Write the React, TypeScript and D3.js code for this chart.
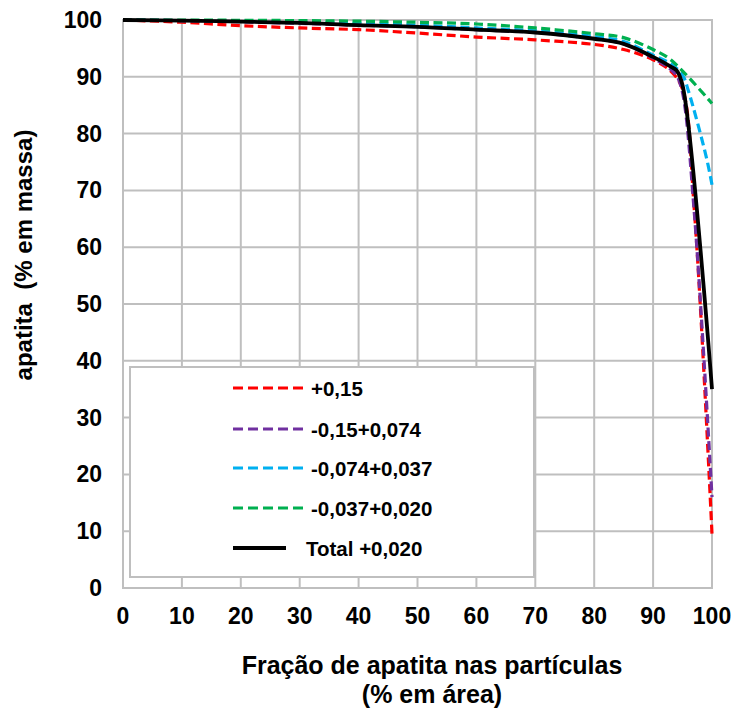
import React from "react";
import * as d3 from "d3";

// Axis ticks
const xTicks = [0, 10, 20, 30, 40, 50, 60, 70, 80, 90, 100];
const yTicks = [0, 10, 20, 30, 40, 50, 60, 70, 80, 90, 100];

// Size-class series: apatite fraction in particles (x) vs cumulative apatite mass (y)
const redX = [0, 10, 20, 30, 40, 50, 60, 70, 80, 85, 90, 93, 95, 97, 100];
const redY = [100, 99.6, 99.0, 98.6, 98.3, 97.7, 97.0, 96.5, 95.7, 94.8, 93.0, 91.0, 87.8, 66.5, 9.5];

const purpleX = [0, 10, 20, 30, 40, 50, 60, 70, 80, 85, 90, 93, 94, 95, 97, 100];
const purpleY = [100, 99.9, 99.7, 99.4, 99.1, 98.8, 98.3, 97.8, 96.7, 95.8, 93.3, 91.3, 90.2, 87.2, 66, 16];

const blueX = [0, 10, 20, 30, 40, 50, 60, 70, 80, 85, 90, 93, 95, 96, 99, 100];
const blueY = [100, 99.9, 99.8, 99.6, 99.4, 99.1, 98.6, 98.1, 97.1, 96.2, 93.8, 92.3, 90.3, 87.5, 76, 71];

const greenX = [0, 10, 20, 30, 40, 50, 60, 70, 80, 85, 90, 93, 100];
const greenY = [100, 100, 99.95, 99.9, 99.8, 99.6, 99.3, 98.6, 97.6, 96.9, 94.8, 93.0, 85.3];

const totalX = [0, 10, 20, 30, 40, 50, 60, 70, 80, 85, 90, 93, 94, 95, 100];
const totalY = [100, 99.9, 99.7, 99.5, 99.1, 98.8, 98.3, 97.8, 96.7, 95.8, 93.5, 91.8, 91.1, 88.5, 35];

const seriesLabels = ["+0,15", "-0,15+0,074", "-0,074+0,037", "-0,037+0,020", "Total +0,020"];
const seriesColors = ["#FF0000", "#7030A0", "#00B0F0", "#00B050", "#000000"];

const seriesList = [
  { xs: redX, ys: redY },
  { xs: purpleX, ys: purpleY },
  { xs: blueX, ys: blueY },
  { xs: greenX, ys: greenY },
  { xs: totalX, ys: totalY },
];

const W = 737;
const H = 713;
const FONT = "'Liberation Sans', Arial, sans-serif";
const GRID = "#BFBFBF";

export default function App() {
  const x = d3.scaleLinear().domain([0, 100]).range([123, 712]);
  const y = d3.scaleLinear().domain([0, 100]).range([588, 20]);

  const line = d3
    .line<[number, number]>()
    .x((d) => x(d[0]))
    .y((d) => y(d[1]))
    .curve(d3.curveCatmullRom.alpha(0.5));

  const legendRows = [388, 429, 468, 508, 548];

  return (
    <svg
      width={W}
      height={H}
      viewBox={`0 0 ${W} ${H}`}
      style={{ position: "absolute", left: 0, top: 0, background: "#fff" }}
      fontFamily={FONT}
    >
      <rect x={0} y={0} width={W} height={H} fill="#fff" />

      {/* grid */}
      {xTicks.slice(1, -1).map((t) => (
        <line key={"gx" + t} x1={x(t)} x2={x(t)} y1={y(0)} y2={y(100)} stroke={GRID} strokeWidth={2} />
      ))}
      {yTicks.slice(1, -1).map((t) => (
        <line key={"gy" + t} x1={x(0)} x2={x(100)} y1={y(t)} y2={y(t)} stroke={GRID} strokeWidth={2} />
      ))}
      <rect
        x={x(0)}
        y={y(100)}
        width={x(100) - x(0)}
        height={y(0) - y(100)}
        fill="none"
        stroke={GRID}
        strokeWidth={2}
      />

      {/* curves */}
      {seriesList.map((s, i) => {
        const pts = s.xs.map((v, j) => [v, s.ys[j]] as [number, number]);
        const isTotal = i === seriesList.length - 1;
        return (
          <path
            key={"s" + i}
            d={line(pts) || ""}
            fill="none"
            stroke={seriesColors[i]}
            strokeWidth={isTotal ? 3.8 : 3.2}
            strokeDasharray={isTotal ? undefined : "9,4.5"}
            strokeLinejoin="round"
          />
        );
      })}

      {/* y tick labels */}
      {yTicks.map((t) => (
        <text
          key={"yt" + t}
          x={102}
          y={y(t)}
          textAnchor="end"
          dominantBaseline="central"
          fontSize={23}
          fontWeight="bold"
          fill="#000"
        >
          {t}
        </text>
      ))}

      {/* x tick labels */}
      {xTicks.map((t) => (
        <text
          key={"xt" + t}
          x={x(t)}
          y={616}
          textAnchor="middle"
          dominantBaseline="central"
          fontSize={23}
          fontWeight="bold"
          fill="#000"
        >
          {t}
        </text>
      ))}

      {/* axis titles */}
      <text
        transform={`translate(32, 255) rotate(-90)`}
        textAnchor="middle"
        fontSize={24}
        fontWeight="bold"
        fill="#000"
        style={{ whiteSpace: "pre" }}
      >
        {"apatita  (% em massa)"}
      </text>
      <text x={432} y={674} textAnchor="middle" fontSize={25} fontWeight="bold" fill="#000">
        Fração de apatita nas partículas
      </text>
      <text x={432} y={703} textAnchor="middle" fontSize={25} fontWeight="bold" fill="#000">
        (% em área)
      </text>

      {/* legend */}
      <rect x={130} y={367} width={404} height={210} fill="#fff" stroke={GRID} strokeWidth={2} />
      {seriesLabels.map((lab, i) => {
        const isTotal = i === seriesLabels.length - 1;
        const cy = legendRows[i];
        return (
          <g key={"lg" + i}>
            <line
              x1={233}
              x2={isTotal ? 286 : 303}
              y1={cy}
              y2={cy}
              stroke={seriesColors[i]}
              strokeWidth={isTotal ? 3.8 : 3.2}
              strokeDasharray={isTotal ? undefined : "10,5"}
            />
            <text
              x={isTotal ? 306 : 311}
              y={cy}
              dominantBaseline="central"
              fontSize={20.5}
              fontWeight="bold"
              fill="#000"
            >
              {lab}
            </text>
          </g>
        );
      })}
    </svg>
  );
}
